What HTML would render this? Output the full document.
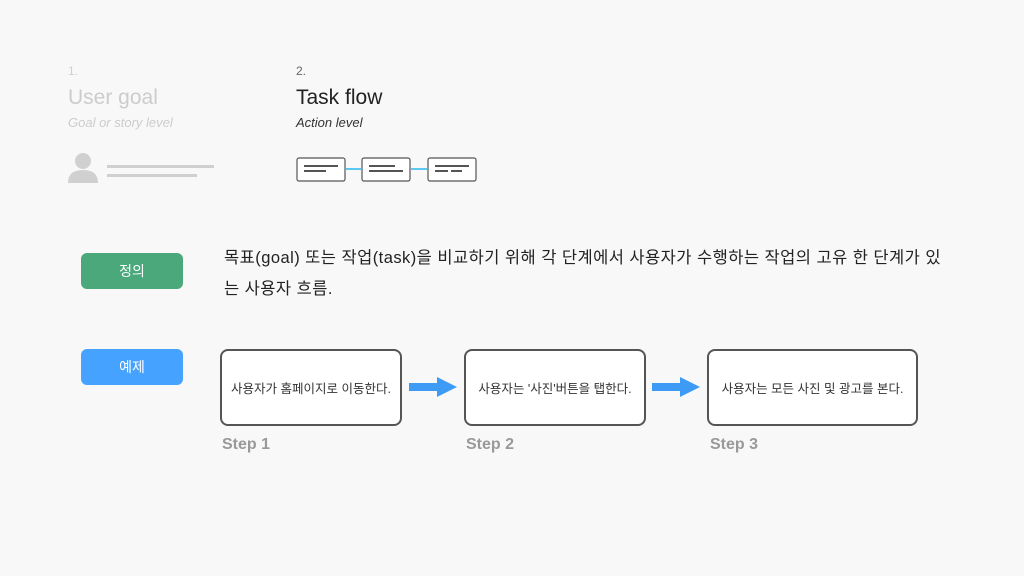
<!DOCTYPE html>
<html><head><meta charset="utf-8"><style>
body{margin:0;width:1024px;height:576px;background:#f9f8f8;position:relative;overflow:hidden;font-family:"Liberation Sans","Noto Sans CJK KR",sans-serif}
.a{position:absolute;white-space:nowrap}
.btn{position:absolute;width:102px;height:36px;border-radius:6px;color:#fff;font-size:14px;text-align:center;line-height:36px}
.box{position:absolute;top:349px;width:178px;height:73px;border:2.5px solid #555;border-radius:8px;background:#fff;font-size:12.5px;color:#333;display:flex;align-items:center;justify-content:center;white-space:nowrap}
.step{position:absolute;top:436px;font-size:16px;color:#999;font-weight:bold}
.arr{position:absolute;top:377px}
</style></head><body>
<div class="a" style="left:68px;top:64px;font-size:12px;color:#d0d0d0">1.</div>
<div class="a" style="left:68px;top:86px;font-size:21px;color:#ccc">User goal</div>
<div class="a" style="left:68px;top:115px;font-size:13px;color:#ccc;font-style:italic">Goal or story level</div>
<div class="a" style="left:296px;top:64px;font-size:12px;color:#666">2.</div>
<div class="a" style="left:296px;top:86px;font-size:21px;color:#222">Task flow</div>
<div class="a" style="left:296px;top:115px;font-size:13px;color:#333;font-style:italic">Action level</div>
<svg class="a" style="left:60px;top:150px" width="430" height="40">
<circle cx="23" cy="11" r="8" fill="#d0d0d0"/><path d="M8 33 Q8 20 23 20 Q38 20 38 33 Z" fill="#d0d0d0"/>
<rect x="47" y="15" width="107" height="3" fill="#d0d0d0"/><rect x="47" y="24" width="90" height="3" fill="#d0d0d0"/>
<g fill="#fff" stroke="#555" stroke-width="1.2">
<rect x="237" y="8" width="48" height="23" rx="2"/><rect x="302" y="8" width="48" height="23" rx="2"/><rect x="368" y="8" width="48" height="23" rx="2"/></g>
<g stroke="#5ac8f0" stroke-width="2"><line x1="286" y1="19" x2="301" y2="19"/><line x1="351" y1="19" x2="367" y2="19"/></g>
<g stroke="#555" stroke-width="2"><line x1="244" y1="16" x2="278" y2="16"/><line x1="244" y1="21" x2="266" y2="21"/>
<line x1="309" y1="16" x2="335" y2="16"/><line x1="309" y1="21" x2="343" y2="21"/>
<line x1="375" y1="16" x2="409" y2="16"/><line x1="375" y1="21" x2="388" y2="21"/><line x1="391" y1="21" x2="402" y2="21"/></g>
</svg>
<div class="btn" style="left:81px;top:253px;background:#4aa87b">정의</div>
<div class="btn" style="left:81px;top:349px;background:#45a3ff">예제</div>
<div class="a" style="left:224px;top:243px;font-size:16.5px;color:#222;line-height:31px;letter-spacing:0.45px">목표(goal) 또는 작업(task)을 비교하기 위해 각 단계에서 사용자가 수행하는 작업의 고유 한 단계가 있<br>는 사용자 흐름.</div>
<div class="box" style="left:220px">사용자가 홈페이지로 이동한다.</div>
<div class="box" style="left:464px">사용자는 '사진'버튼을 탭한다.</div>
<div class="box" style="left:707px;width:207px">사용자는 모든 사진 및 광고를 본다.</div>
<svg class="arr" style="left:409px" width="50" height="20"><rect x="0" y="6" width="30" height="8" fill="#3d9bf5"/><polygon points="28,0 48,10 28,20" fill="#3d9bf5"/></svg>
<svg class="arr" style="left:652px" width="50" height="20"><rect x="0" y="6" width="30" height="8" fill="#3d9bf5"/><polygon points="28,0 48,10 28,20" fill="#3d9bf5"/></svg>
<div class="step" style="left:222px">Step 1</div>
<div class="step" style="left:466px">Step 2</div>
<div class="step" style="left:710px">Step 3</div>
</body></html>
